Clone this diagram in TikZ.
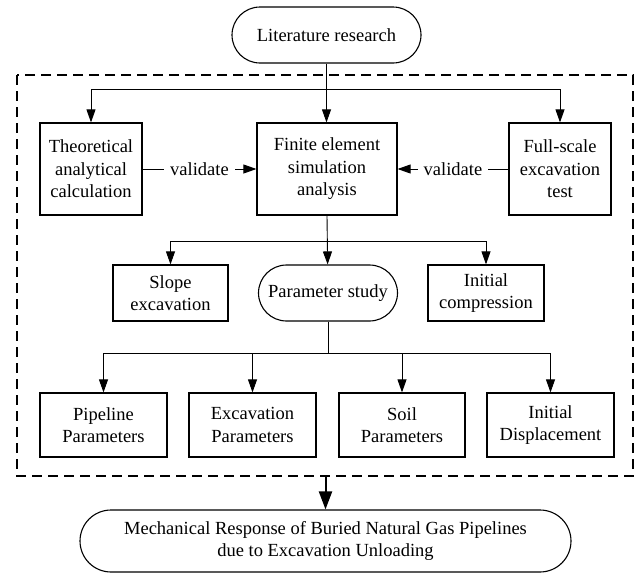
\documentclass[tikz,border=0pt]{standalone}
\usepackage{fontspec}
\setmainfont{Liberation Serif}
\usetikzlibrary{arrows.meta}
\begin{document}
\begin{tikzpicture}[x=1pt,y=-1pt,
  every node/.style={font=\fontsize{18.5}{22.5}\selectfont, align=center, inner sep=0pt},
  bx/.style={draw, line width=1.2pt, minimum height=#1},
  rbx/.style={draw, line width=1.1pt, rounded corners=#1},
  conn/.style={line width=0.9pt, -{Triangle[length=13pt,width=9pt]}},
  plain/.style={line width=0.9pt},
  >={Triangle[length=13pt,width=9pt]}]
\useasboundingbox (0,0) rectangle (638,573);
% nodes
\node[rbx=28pt, minimum width=189pt, minimum height=56pt] (lit) at (326.5,35) {Literature research};
\node[bx=92pt, minimum width=102pt] (theo) at (91,169) {Theoretical\\analytical\\calculation};
\node[bx=92pt, minimum width=140pt] (fe) at (327,169) {Finite element\\simulation\\analysis};
\node[bx=92pt, minimum width=102pt] (full) at (560,169) {Full-scale\\excavation\\test};
\node[bx=56pt, minimum width=115pt] (slope) at (170.5,293) {Slope\\excavation};
\node[rbx=28pt, minimum width=139pt, minimum height=56pt] (param) at (328,293) {Parameter study};
\node[bx=56pt, minimum width=116pt] (initc) at (486,293) {Initial\\compression};
\node[bx=64pt, minimum width=127pt] (pipe) at (103.5,425) {Pipeline\\Parameters};
\node[bx=64pt, minimum width=127pt] (exc) at (252.5,425) {Excavation\\Parameters};
\node[bx=64pt, minimum width=126pt] (soil) at (402,425) {Soil\\Parameters};
\node[bx=64pt, minimum width=127pt] (disp) at (550.5,425) {Initial\\Displacement};
\node[rbx=31pt, minimum width=491pt, minimum height=62pt] (res) at (325.5,541) {Mechanical Response of Buried Natural Gas Pipelines\\due to Excavation Unloading};
% dashed frame
\draw[line width=1.2pt, dash pattern=on 10pt off 6pt] (17,75) rectangle (633,476);
% junctions
\coordinate (j1) at (326.5,89);
\coordinate (j2) at (327,241);
\coordinate (j3) at (328,353);
\coordinate (jb) at (325.5,476);
% connectors
\draw[conn] (lit) -- (lit |- fe.north);
\draw[conn] (j1) -| (theo);
\draw[conn] (j1) -| (full);
\draw[conn] (theo) -- node[fill=white, inner xsep=6pt, inner ysep=2pt]{validate} (fe);
\draw[conn] (full) -- node[fill=white, inner xsep=6pt, inner ysep=2pt]{validate} (fe);
\draw[conn] (fe.south -| j2) -- (param);
\draw[conn] (j2) -| (slope);
\draw[conn] (j2) -| (initc);
\draw[plain] (param) -- (j3);
\draw[conn] (j3) -| (pipe);
\draw[conn] (j3) -| (exc);
\draw[conn] (j3) -| (soil);
\draw[conn] (j3) -| (disp);
\draw[line width=2pt, -{Triangle[length=18pt,width=13pt]}] (jb) -- (res);
\end{tikzpicture}
\end{document}
